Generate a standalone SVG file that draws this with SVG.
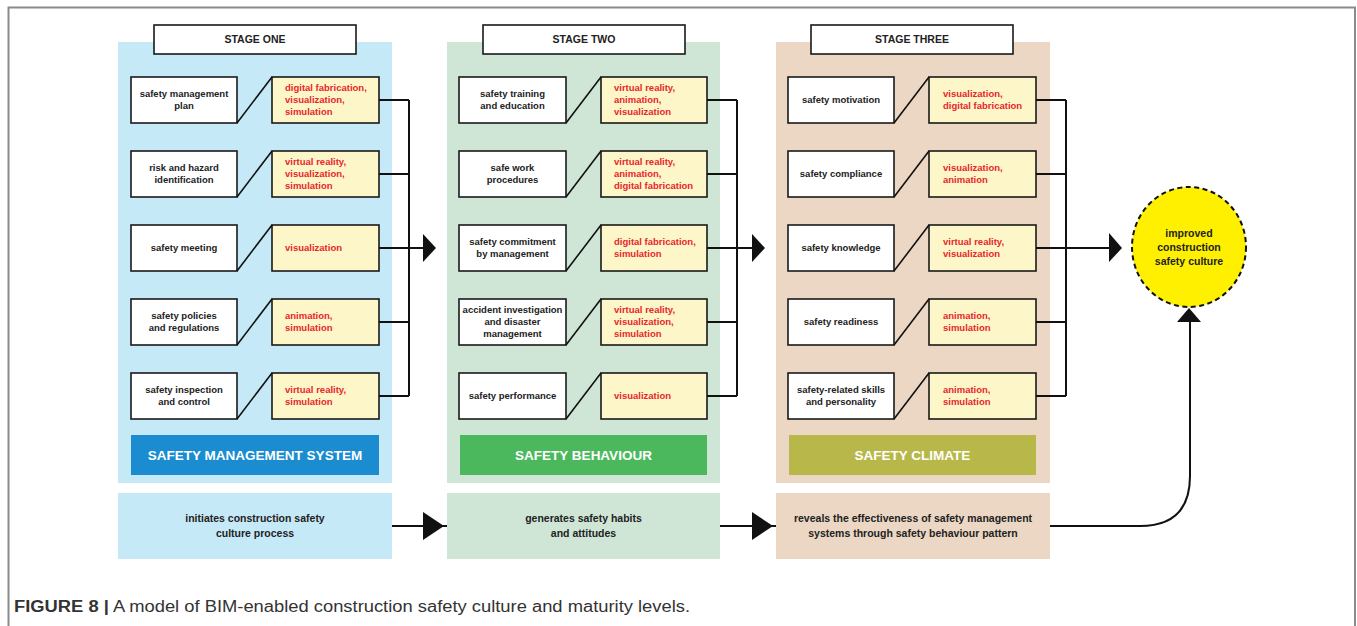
<svg xmlns="http://www.w3.org/2000/svg" width="1357" height="626" viewBox="0 0 1357 626">
<style>
.lb{fill:#fff;stroke:#1a1a1a;stroke-width:1.6}
.yb{fill:#fdf6c8;stroke:#1a1a1a;stroke-width:1.6}
.t{font-family:"Liberation Sans",Arial,sans-serif;font-size:9.5px;font-weight:bold;fill:#222;text-anchor:middle}
.r{font-family:"Liberation Sans",Arial,sans-serif;font-size:9.5px;font-weight:bold;fill:#e8262b}
.st{font-family:"Liberation Sans",Arial,sans-serif;font-size:10.5px;font-weight:bold;fill:#222;text-anchor:middle}
.bt{font-family:"Liberation Sans",Arial,sans-serif;font-size:10.5px;font-weight:bold;fill:#222;text-anchor:middle}
.lab{font-family:"Liberation Sans",Arial,sans-serif;font-size:13.5px;font-weight:bold;fill:#fff;text-anchor:middle}
.ln{stroke:#111;stroke-width:2;fill:none}
.dg{stroke:#111;stroke-width:1.6;fill:none}
.ah{fill:#111}
</style>
<path d="M8.5,626 V7.5 H1355 V626" fill="none" stroke="#8a8a8a" stroke-width="2"/>

<!-- STAGE ONE -->
<g id="stage1">
<rect x="118" y="42" width="274" height="441" fill="#c6e9f8"/>
<g id="s1-title"><rect x="154" y="25" width="202" height="29" class="lb"/><text x="255" y="43" class="st">STAGE ONE</text></g>
<g id="s1r1"><rect x="131" y="77" width="106" height="46" class="lb"/><rect x="272" y="77" width="107" height="46" class="yb"/><path d="M237,123 L272,77" class="dg"/>
<text x="184" y="97" class="t">safety management</text><text x="184" y="109" class="t">plan</text>
<text x="285" y="91" class="r">digital fabrication,</text><text x="285" y="103" class="r">visualization,</text><text x="285" y="115" class="r">simulation</text></g>
<g id="s1r2"><rect x="131" y="151" width="106" height="46" class="lb"/><rect x="272" y="151" width="107" height="46" class="yb"/><path d="M237,197 L272,151" class="dg"/>
<text x="184" y="171" class="t">risk and hazard</text><text x="184" y="183" class="t">identification</text>
<text x="285" y="165" class="r">virtual reality,</text><text x="285" y="177" class="r">visualization,</text><text x="285" y="189" class="r">simulation</text></g>
<g id="s1r3"><rect x="131" y="225" width="106" height="46" class="lb"/><rect x="272" y="225" width="107" height="46" class="yb"/><path d="M237,271 L272,225" class="dg"/>
<text x="184" y="251" class="t">safety meeting</text>
<text x="285" y="251" class="r">visualization</text></g>
<g id="s1r4"><rect x="131" y="299" width="106" height="46" class="lb"/><rect x="272" y="299" width="107" height="46" class="yb"/><path d="M237,345 L272,299" class="dg"/>
<text x="184" y="319" class="t">safety policies</text><text x="184" y="331" class="t">and regulations</text>
<text x="285" y="319" class="r">animation,</text><text x="285" y="331" class="r">simulation</text></g>
<g id="s1r5"><rect x="131" y="373" width="106" height="46" class="lb"/><rect x="272" y="373" width="107" height="46" class="yb"/><path d="M237,419 L272,373" class="dg"/>
<text x="184" y="393" class="t">safety inspection</text><text x="184" y="405" class="t">and control</text>
<text x="285" y="393" class="r">virtual reality,</text><text x="285" y="405" class="r">simulation</text></g>
<g id="s1-label"><rect x="131" y="435" width="248" height="40" fill="#1a8ccf"/><text x="255" y="460" class="lab">SAFETY MANAGEMENT SYSTEM</text></g>
<g id="s1-bottom"><rect x="118" y="493" width="274" height="66" fill="#c6e9f8"/><text x="255" y="522" class="bt">initiates construction safety</text><text x="255" y="537" class="bt">culture process</text></g>
</g>

<!-- STAGE TWO -->
<g id="stage2">
<rect x="447" y="42" width="273" height="441" fill="#cfe6d7"/>
<g id="s2-title"><rect x="483" y="25" width="202" height="29" class="lb"/><text x="584" y="43" class="st">STAGE TWO</text></g>
<g id="s2r1"><rect x="459" y="77" width="107" height="46" class="lb"/><rect x="601" y="77" width="106" height="46" class="yb"/><path d="M566,123 L601,77" class="dg"/>
<text x="512.5" y="97" class="t">safety training</text><text x="512.5" y="109" class="t">and education</text>
<text x="614" y="91" class="r">virtual reality,</text><text x="614" y="103" class="r">animation,</text><text x="614" y="115" class="r">visualization</text></g>
<g id="s2r2"><rect x="459" y="151" width="107" height="46" class="lb"/><rect x="601" y="151" width="106" height="46" class="yb"/><path d="M566,197 L601,151" class="dg"/>
<text x="512.5" y="171" class="t">safe work</text><text x="512.5" y="183" class="t">procedures</text>
<text x="614" y="165" class="r">virtual reality,</text><text x="614" y="177" class="r">animation,</text><text x="614" y="189" class="r">digital fabrication</text></g>
<g id="s2r3"><rect x="459" y="225" width="107" height="46" class="lb"/><rect x="601" y="225" width="106" height="46" class="yb"/><path d="M566,271 L601,225" class="dg"/>
<text x="512.5" y="245" class="t">safety commitment</text><text x="512.5" y="257" class="t">by management</text>
<text x="614" y="245" class="r">digital fabrication,</text><text x="614" y="257" class="r">simulation</text></g>
<g id="s2r4"><rect x="459" y="299" width="107" height="46" class="lb"/><rect x="601" y="299" width="106" height="46" class="yb"/><path d="M566,345 L601,299" class="dg"/>
<text x="512.5" y="313" class="t">accident investigation</text><text x="512.5" y="325" class="t">and disaster</text><text x="512.5" y="337" class="t">management</text>
<text x="614" y="313" class="r">virtual reality,</text><text x="614" y="325" class="r">visualization,</text><text x="614" y="337" class="r">simulation</text></g>
<g id="s2r5"><rect x="459" y="373" width="107" height="46" class="lb"/><rect x="601" y="373" width="106" height="46" class="yb"/><path d="M566,419 L601,373" class="dg"/>
<text x="512.5" y="399" class="t">safety performance</text>
<text x="614" y="399" class="r">visualization</text></g>
<g id="s2-label"><rect x="460" y="435" width="247" height="40" fill="#4cb85e"/><text x="583.5" y="460" class="lab">SAFETY BEHAVIOUR</text></g>
<g id="s2-bottom"><rect x="447" y="493" width="273" height="66" fill="#cfe6d7"/><text x="583.5" y="522" class="bt">generates safety habits</text><text x="583.5" y="537" class="bt">and attitudes</text></g>
</g>

<!-- STAGE THREE -->
<g id="stage3">
<rect x="776" y="42" width="274" height="441" fill="#ebd7c3"/>
<g id="s3-title"><rect x="811" y="25" width="202" height="29" class="lb"/><text x="912" y="43" class="st">STAGE THREE</text></g>
<g id="s3r1"><rect x="788" y="77" width="106" height="46" class="lb"/><rect x="929" y="77" width="107" height="46" class="yb"/><path d="M894,123 L929,77" class="dg"/>
<text x="841" y="103" class="t">safety motivation</text>
<text x="943" y="97" class="r">visualization,</text><text x="943" y="109" class="r">digital fabrication</text></g>
<g id="s3r2"><rect x="788" y="151" width="106" height="46" class="lb"/><rect x="929" y="151" width="107" height="46" class="yb"/><path d="M894,197 L929,151" class="dg"/>
<text x="841" y="177" class="t">safety compliance</text>
<text x="943" y="171" class="r">visualization,</text><text x="943" y="183" class="r">animation</text></g>
<g id="s3r3"><rect x="788" y="225" width="106" height="46" class="lb"/><rect x="929" y="225" width="107" height="46" class="yb"/><path d="M894,271 L929,225" class="dg"/>
<text x="841" y="251" class="t">safety knowledge</text>
<text x="943" y="245" class="r">virtual reality,</text><text x="943" y="257" class="r">visualization</text></g>
<g id="s3r4"><rect x="788" y="299" width="106" height="46" class="lb"/><rect x="929" y="299" width="107" height="46" class="yb"/><path d="M894,345 L929,299" class="dg"/>
<text x="841" y="325" class="t">safety readiness</text>
<text x="943" y="319" class="r">animation,</text><text x="943" y="331" class="r">simulation</text></g>
<g id="s3r5"><rect x="788" y="373" width="106" height="46" class="lb"/><rect x="929" y="373" width="107" height="46" class="yb"/><path d="M894,419 L929,373" class="dg"/>
<text x="841" y="393" class="t">safety-related skills</text><text x="841" y="405" class="t">and personality</text>
<text x="943" y="393" class="r">animation,</text><text x="943" y="405" class="r">simulation</text></g>
<g id="s3-label"><rect x="789" y="435" width="247" height="40" fill="#b8b84a"/><text x="912.5" y="460" class="lab">SAFETY CLIMATE</text></g>
<g id="s3-bottom"><rect x="776" y="493" width="274" height="66" fill="#ebd7c3"/><text x="913" y="522" class="bt">reveals the effectiveness of safety management</text><text x="913" y="537" class="bt">systems through safety behaviour pattern</text></g>
</g>

<g id="outcome">
<ellipse cx="1189" cy="247" rx="57" ry="60" fill="#fff000" stroke="#111" stroke-width="2" stroke-dasharray="5,3.5"/>
<text x="1189" y="237" class="bt">improved</text><text x="1189" y="251" class="bt">construction</text><text x="1189" y="265" class="bt">safety culture</text>
</g>

<g id="connectors">
<path d="M379,100 H409 M379,174 H409 M379,322 H409 M379,396 H409 M409,100 V396 M379,248 H424" class="ln"/>
<polygon points="423,234 423,262 436,248" class="ah"/>
<path d="M707,100 H737 M707,174 H737 M707,322 H737 M707,396 H737 M737,100 V396 M707,248 H753" class="ln"/>
<polygon points="752,234 752,262 765,248" class="ah"/>
<path d="M1036,100 H1066 M1036,174 H1066 M1036,322 H1066 M1036,396 H1066 M1066,100 V396 M1036,248 H1110" class="ln"/>
<polygon points="1109,233 1109,262 1122,248" class="ah"/>
<path d="M392,526 H447" class="ln"/>
<polygon points="423,512 423,540 444,526" class="ah"/>
<path d="M720,526 H776" class="ln"/>
<polygon points="752,512 752,540 773,526" class="ah"/>
<path d="M1050,526 H1140 Q1190,526 1190,476 V320" class="ln"/>
<polygon points="1177,322 1201,322 1189,308" class="ah"/>
</g>

<text x="14" y="612" font-family="'Liberation Sans',Arial,sans-serif" font-size="16" fill="#333" textLength="676" lengthAdjust="spacingAndGlyphs"><tspan font-weight="bold">FIGURE 8 |</tspan> A model of BIM-enabled construction safety culture and maturity levels.</text>
</svg>
